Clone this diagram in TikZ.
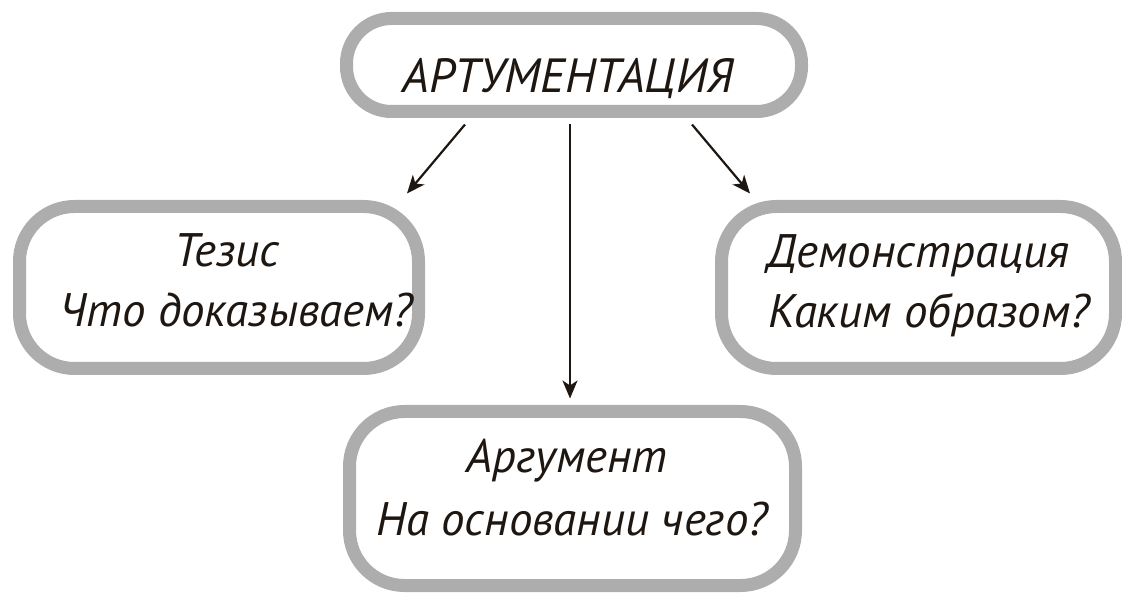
\documentclass[tikz,border=0pt]{standalone}
\usepackage{fontspec}
\setmainfont{PT Sans}
\usetikzlibrary{arrows.meta}
\definecolor{boxgray}{HTML}{ADADAD}
\definecolor{ink}{HTML}{1E1610}
\tikzset{
  box/.style={draw=boxgray, line width=13pt, rounded corners=#1, fill=white, inner sep=0pt},
  lbl/.style={anchor=base, inner sep=0pt, text=ink, font=\fontsize{47}{52}\selectfont\itshape},
  toplbl/.style={anchor=base, inner sep=0pt, text=ink, font=\fontsize{48}{54}\selectfont\itshape},
  conn/.style={draw=ink, line width=2.2pt, -{Stealth[length=18pt,width=15pt,inset=5pt]}}
}
\begin{document}
\begin{tikzpicture}[x=1pt,y=-1pt]
\useasboundingbox (0,0) rectangle (1122,593);
% boxes
\node[box=45pt, minimum width=455pt, minimum height=93pt] (top) at (574,65) {};
\node[box=55pt, minimum width=399pt, minimum height=162pt] (left) at (219,287.5) {};
\node[box=55pt, minimum width=394pt, minimum height=162pt] (right) at (918.5,287.5) {};
\node[box=55pt, minimum width=446pt, minimum height=174pt] (bottom) at (572.5,498.5) {};
% connectors
\draw[conn] ([xshift=-109pt,yshift=-6.5pt]top.south) -- ([xshift=188pt,yshift=6.5pt]left.north);
\draw[conn] ([xshift=-4pt,yshift=-6.5pt]top.south) -- ([xshift=-2.5pt,yshift=6.5pt]bottom.north);
\draw[conn] ([xshift=118pt,yshift=-6.5pt]top.south) -- ([xshift=-168.5pt,yshift=6.5pt]right.north);
% labels
\node[toplbl] (t0) at (568,93) {АРТУМЕНТАЦИЯ};
\node[lbl] (t1) at (227,267) {Тезис};
\node[lbl] (t2) at (236,327) {Что доказываем?};
\node[lbl] (t3) at (918,268) {Демонстрация};
\node[lbl] (t4) at (929,328) {Каким образом?};
\node[lbl] (t5) at (567,472) {Аргумент};
\node[lbl] (t6) at (572,535) {На основании чего?};
\end{tikzpicture}
\end{document}
